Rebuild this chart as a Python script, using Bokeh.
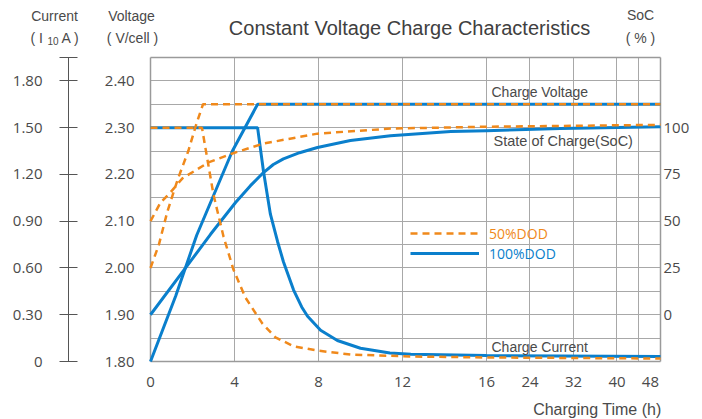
import numpy as np
from bokeh.plotting import figure
from bokeh.models import (Range1d, LinearAxis, FixedTicker, CustomJSTickFormatter,
                          Label, Legend, LegendItem, Grid)
from bokeh.embed import file_html
from bokeh.resources import INLINE

# ---------------- data ----------------
K = 0.259  # time axis is compressed after 16 h

x_tick_hours = [0, 4, 8, 12, 16, 24, 32, 40, 48]
x_tick_labels = ["0", "4", "8", "12", "16", "24", "32", "40", "48"]
x_grid_hours = [4, 8, 12, 16, 24, 32, 40, 44]

volt_ticks = [1.80, 1.90, 2.00, 2.10, 2.20, 2.30, 2.40]
volt_labels = ["1.80", "1.90", "2.00", "2.10", "2.20", "2.30", "2.40"]
volt_grid = [1.85, 1.90, 1.95, 2.00, 2.05, 2.10, 2.15, 2.20, 2.25, 2.30, 2.35, 2.40]
current_ticks = [0, 0.3, 0.6, 0.9, 1.2, 1.5, 1.8, 1.95]
current_labels = ["0", "0.30", "0.60", "0.90", "1.20", "1.50", "1.80", ""]
soc_ticks = [0, 25, 50, 75, 100]
soc_labels = ["0", "25", "50", "75", "100"]

# 100% DOD
v100_t = [0, 1.2, 2.2, 3.9, 5.1, 48]
v100_v = [1.80, 1.94, 2.07, 2.25, 2.35, 2.35]
i100_t = [0, 5.1, 5.38, 5.71, 6.05, 6.33, 6.81, 7.2, 7.48, 8.1, 8.9, 10.0, 11.4, 12.4, 16, 48]
i100_i = [1.50, 1.50, 1.22, 0.945, 0.77, 0.64, 0.46, 0.35, 0.29, 0.20, 0.135, 0.085,
          0.055, 0.046, 0.038, 0.032]
s100_t = [0, 1.67, 2.86, 4.05, 4.76, 5.38, 5.85, 6.33, 7.1, 7.95, 9.52, 11.43, 14.3, 16, 29.6, 48]
s100_s = [0, 25, 43, 60, 69, 76, 80.3, 83.3, 86.6, 89.4, 93.1, 95.7, 97.9, 98.4, 99.5, 100.5]

# 50% DOD
v50_t = [0, 0.4, 0.8, 1.3, 1.8, 2.2, 2.5, 48]
v50_v = [2.00, 2.05, 2.12, 2.19, 2.25, 2.31, 2.35, 2.35]
i50_t = [0, 2.45, 2.71, 3.0, 3.48, 3.95, 4.52, 5.33, 5.95, 6.81, 7.95, 9.52, 12.38, 16, 48]
i50_i = [1.50, 1.50, 1.296, 1.07, 0.80, 0.59, 0.41, 0.243, 0.155, 0.098, 0.070, 0.045,
         0.032, 0.026, 0.019]
s50_t = [0, 0.48, 0.95, 1.52, 2.76, 3.9, 5.38, 7.95, 11.43, 16, 48]
s50_s = [50, 60, 65.4, 72.9, 81.4, 86.2, 91.5, 96.8, 99.5, 100.5, 101.5]


def xpos(hours):
    h = np.asarray(hours, dtype=float)
    return np.where(h <= 16, h, 16 + (h - 16) * K)


XMAX = float(xpos(48))
BLUE = "#0a7fcc"
ORANGE = "#f0891b"
TXT = "#4a4a4a"
W, H = 702, 419
# plot area on the page (pixels)
PL, PR, PT, PB = 150, 660, 57, 361
VMIN, VMAX = 1.80, 2.45


def ux(px):
    return (px - PL) / (PR - PL) * XMAX


def vy(py):
    return VMIN + (PB - py) / (PB - PT) * (VMAX - VMIN)


def cur(v):
    return (v - 1.80) * 3.0


def soc(v):
    return (v - 1.90) * 250.0


p = figure(width=W, height=H, x_range=Range1d(ux(0), ux(W)), y_range=Range1d(vy(H), vy(0)),
           output_backend="svg", toolbar_location=None, title=None, min_border=0)
p.extra_y_ranges = {"current": Range1d(cur(vy(H)), cur(vy(0))),
                    "soc": Range1d(soc(vy(H)), soc(vy(0)))}
p.background_fill_color = "white"
p.border_fill_color = "white"
p.outline_line_color = None


def fmt(pos, labs):
    return CustomJSTickFormatter(args=dict(pos=list(map(float, pos)), labs=labs),
                                 code="const i = pos.findIndex(v => Math.abs(v - tick) < 1e-6);"
                                      "return i < 0 ? '' : labs[i];")


def style(ax, standoff):
    ax.minor_tick_line_color = None
    ax.major_label_standoff = standoff
    ax.major_label_text_font = "Open Sans"
    ax.major_label_text_font_size = "15px"
    ax.major_label_text_color = TXT


# x axis
x_tick_pos = list(map(float, xpos(x_tick_hours)))
x_tick_pos[-1] = XMAX - 0.48
xa = p.xaxis[0]
xa.ticker = FixedTicker(ticks=x_tick_pos)
xa.formatter = fmt(x_tick_pos, x_tick_labels)
xa.fixed_location = VMIN
xa.bounds = (0, XMAX)
xa.major_tick_out = 0
xa.major_tick_in = 0
xa.axis_line_color = None
style(xa, 15)

# voltage axis
ya = p.yaxis[0]
ya.ticker = FixedTicker(ticks=volt_ticks)
ya.formatter = fmt(volt_ticks, volt_labels)
ya.fixed_location = 0.0
ya.bounds = (VMIN, VMAX)
ya.major_tick_out = 0
ya.major_tick_in = 0
ya.axis_line_color = None
style(ya, 16)

# current axis
ca = LinearAxis(y_range_name="current", ticker=FixedTicker(ticks=current_ticks),
                formatter=fmt(current_ticks, current_labels),
                fixed_location=ux(68), bounds=(0, 1.95))
ca.major_tick_in = 9
ca.major_tick_out = 9
ca.axis_line_color = "#555555"
ca.major_tick_line_color = "#555555"
style(ca, 17)
p.add_layout(ca, "left")

# SoC axis
sa = LinearAxis(y_range_name="soc", ticker=FixedTicker(ticks=soc_ticks),
                formatter=fmt(soc_ticks, soc_labels), fixed_location=XMAX,
                bounds=(soc(VMIN), soc(VMAX)))
sa.major_tick_in = 0
sa.major_tick_out = 0
sa.axis_line_color = None
style(sa, 3)
p.add_layout(sa, "right")

# grids (limited to the plotting area)
p.xgrid.ticker = FixedTicker(ticks=list(map(float, xpos(x_grid_hours))))
p.ygrid.ticker = FixedTicker(ticks=volt_grid)
p.xgrid.grid_line_color = "#a8a8a8"
p.ygrid.grid_line_color = "#a8a8a8"
p.xgrid.cross_bounds = (VMIN, VMAX)
p.ygrid.cross_bounds = (0, XMAX)
# border of the plotting area
p.add_layout(Grid(dimension=0, ticker=FixedTicker(ticks=[0, XMAX]), cross_bounds=(VMIN, VMAX),
                  grid_line_color="#9a9a9a", grid_line_width=1.5))
p.add_layout(Grid(dimension=1, ticker=FixedTicker(ticks=[VMIN, VMAX]), cross_bounds=(0, XMAX),
                  grid_line_color="#9a9a9a", grid_line_width=1.5))

# curves: 100% DOD
lw_b, lw_o, dash = 3, 2.5, "7 5"
r_v100 = p.line(xpos(v100_t), v100_v, line_color=BLUE, line_width=lw_b)
p.line(xpos(i100_t), i100_i, line_color=BLUE, line_width=lw_b, y_range_name="current")
p.line(xpos(s100_t), s100_s, line_color=BLUE, line_width=lw_b, y_range_name="soc")
# curves: 50% DOD
r_v50 = p.line(xpos(v50_t), v50_v, line_color=ORANGE, line_width=lw_o, line_dash=dash)
p.line(xpos(i50_t), i50_i, line_color=ORANGE, line_width=lw_o, line_dash=dash,
       y_range_name="current")
p.line(xpos(s50_t), s50_s, line_color=ORANGE, line_width=lw_o, line_dash=dash,
       y_range_name="soc")

# legends (location = bottom-left corner, pixels from the canvas' bottom-left)
for r, lab, col, cy in ((r_v50, "50%DOD", ORANGE, 233), (r_v100, "100%DOD", BLUE, 253)):
    lg = Legend(items=[LegendItem(label=lab, renderers=[r])], location=(410, H - (cy + 10)),
                padding=0, margin=0, spacing=0, border_line_color=None,
                background_fill_alpha=0, glyph_width=69, glyph_height=20,
                label_height=20, label_standoff=10, label_text_font="Open Sans",
                label_text_font_size="14px", label_text_color=col)
    p.add_layout(lg)


def lbl(px, py, text, size, align="left", color=TXT):
    p.add_layout(Label(x=ux(px), y=vy(py), text=text, text_font="Liberation Sans",
                       text_font_size=size, text_align=align, text_baseline="middle",
                       text_color=color))


lbl(491, 91, "Charge Voltage", "14px")
lbl(493, 140, "State of Charge(SoC)", "14.5px")
lbl(491, 346, "Charge Current", "14px")

lbl(409, 27, "Constant Voltage Charge Characteristics", "20px", "center", color="#404040")
lbl(54, 15, "Current", "14px", "center")
lbl(30, 37, "( I", "14px")
lbl(47, 40, "10", "10px")
lbl(61, 37, "A )", "14px")
lbl(131, 15, "Voltage", "14px", "center")
lbl(132, 37, "( V/cell )", "14px", "center")
lbl(640, 14, "SoC", "14px", "center")
lbl(640, 37, "( % )", "14px", "center")
lbl(661, 409, "Charging Time (h)", "16px", "right")

open("out.html", "w").write(file_html(p, INLINE))
